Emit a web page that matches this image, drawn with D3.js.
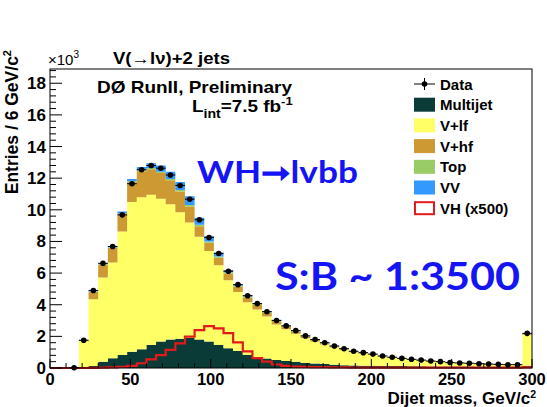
<!DOCTYPE html>
<html><head><meta charset="utf-8">
<script src="https://cdn.jsdelivr.net/npm/d3@7"></script>
<style>body{margin:0;background:#fff}svg{display:block}</style>
</head><body>
<svg id="c" width="547" height="407"></svg>
<script>
// bin lower edges, 6 GeV bins from 0 to 300
const binEdges = d3.range(0, 300, 6);
const binWidth = 6;
const dataCounts = [null,null,0.02, 1.75,4.90,6.62,7.68,9.68,11.65,12.53,12.80,12.63,12.20, 11.54,10.67,9.37,8.25,7.24,6.12,5.27,4.57,4.07,3.56, 3.00,2.66,2.36,2.03,1.80,1.60,1.39,1.22,1.06,0.97, 0.88,0.76,0.68,0.61,0.55,0.50,0.44,0.40,0.34,0.32, 0.30,0.27,0.25,0.23,0.21,0.21,2.19];
const multijet = [0,0,0, .03,.13,.40,.61,.82,1.03,1.18,1.46,1.67,1.80, 1.85,1.90,1.80,1.67,1.46,1.25,1.08,.82,.70,.60, .50,.45,.40,.32,.28,.25,.20,.18,.16,.15, .14,.13,.12,.12,.11,.11,.10,.10,.09,.09, .09,.08,.08,.08,.08,.08,.15];
const vlf = [0,0,0, 1.69,4.22,5.32,6.06,7.81,9.47,9.62,9.49,9.03,8.55, 8.00,7.30,6.50,5.73,5.04,4.30,3.72,3.33,3.00,2.65, 2.25,2.00,1.77,1.56,1.39,1.23,1.10,.97,.84,.76, .69,.60,.53,.47,.42,.37,.33,.29,.24,.22, .20,.18,.16,.14,.12,.12,1.95];
const vhf = [0,0,0, .05,.45,.81,.91,1.10,1.24,1.63,1.62,1.62,1.51, 1.31,1.01,.66,.51,.47,.43,.33,.31,.28,.25, .21,.18,.14,.13,.10,.08,.07,.05,.05,.04, .03,.02,.02,.02,.02,.01,.01,.01,.01,.01, .01,.01,.01,.01,.01,.01,.07];
const top_ = [0,0,0, 0,.02,.03,.04,.05,.06,.07,.08,.08,.09, .09,.09,.09,.08,.08,.07,.07,.06,.06,.05, .05,.04,.04,.03,.03,.02,.02,.02,.01,.01, .01,.01,.01,.01,.01,.01,.01,.01,.01,.01, .01,.01,.01,.01,.01,.01,.02];
const vv = [0,0,0, .01,.03,.06,.08,.12,.15,.20,.30,.40,.45, .50,.55,.45,.36,.25,.15,.10,.08,.06,.05, .04,.03,.03,.02,.02,.02,.01,.01,.01,.01, .01,.01,.01,0,0,0,0,0,0,0, 0,0,0,0,0,0,.01];
const vhx500 = [0,0,0, 0,.01,.02,.04,.08,.13,.30,.55,.82,1.14, 1.56,1.98,2.40,2.65,2.50,2.20,1.62,1.05,.62,.40, .22,.13,.09,.07,.05,.05,.04,.04,.03,.03, .03,.03,.03,.03,.02,.02,.02,.02,.02,.02, .02,.02,.02,.02,.02,.02,.04];
const yTicks = [0,2,4,6,8,10,12,14,16,18];
const xTicks = [0,50,100,150,200,250,300];
const seriesNames = ["Multijet","V+lf","V+hf","Top","VV"];
const seriesColors = ["#0b3b36","#ffff66","#cc9933","#99cc66","#3399ff"];

const svg = d3.select("#c");
const L=50, R=532, T=69, B=368;
const x = d3.scaleLinear().domain([0,300]).range([L,R]);
const y = d3.scaleLinear().domain([0,18.9]).range([B,T]);

const rows = binEdges.map((e,i)=>({e, "Multijet":multijet[i], "V+lf":vlf[i], "V+hf":vhf[i], "Top":top_[i], "VV":vv[i]}));
rows.push(Object.assign({}, rows[rows.length-1], {e:300}));
const stacked = d3.stack().keys(seriesNames)(rows);
const area = d3.area().curve(d3.curveStepAfter).x(d=>x(d.data.e)).y0(d=>y(d[0])).y1(d=>y(d[1]));
svg.append("g").selectAll("path").data(stacked).join("path")
  .attr("d", area).attr("fill",(d,i)=>seriesColors[i]);

// VH x500 outline
const vhPts = binEdges.map((e,i)=>[e,vhx500[i]]);
vhPts.push([300, vhx500[vhx500.length-1]]);
svg.append("path").attr("d", d3.line().curve(d3.curveStepAfter).x(d=>x(d[0])).y(d=>y(d[1]))(vhPts))
  .attr("fill","none").attr("stroke","#e31a1c").attr("stroke-width",2.2);

// data points
const dg = svg.append("g");
binEdges.forEach((e,i)=>{
  const v = dataCounts[i]; if (v===null) return;
  dg.append("line").attr("x1",x(e)).attr("x2",x(e+binWidth)).attr("y1",y(v)).attr("y2",y(v)).attr("stroke","#000").attr("stroke-width",1);
  const err = Math.sqrt(v*1000)/1000;
  dg.append("line").attr("x1",x(e+3)).attr("x2",x(e+3)).attr("y1",y(v+err)).attr("y2",y(Math.max(0,v-err))).attr("stroke","#000");
  dg.append("circle").attr("cx",x(e+3)).attr("cy",y(v)).attr("r",2.8).attr("fill","#000");
});

// frame
svg.append("rect").attr("x",L).attr("y",T).attr("width",R-L).attr("height",B-T).attr("fill","none").attr("stroke","#000").attr("stroke-width",1);

// ticks (inward)
const ax = svg.append("g").attr("stroke","#000");
d3.range(0,18.9,0.4).forEach(v=>{
  const major = Math.abs(v/2-Math.round(v/2))<1e-6;
  ax.append("line").attr("x1",L).attr("x2",L+(major?12:6)).attr("y1",y(v)).attr("y2",y(v));
});
d3.range(0,301,10).forEach(v=>{
  const major = v%50===0;
  ax.append("line").attr("x1",x(v)).attr("x2",x(v)).attr("y1",B).attr("y2",B-(major?9:5));
});
const font = "'Liberation Sans', Arial, sans-serif";
svg.append("g").selectAll("text").data(yTicks).join("text")
  .attr("x",46).attr("y",d=>y(d)+6).attr("text-anchor","end")
  .attr("font-family",font).attr("font-weight","bold").attr("font-size",17).text(d=>d);
svg.append("g").selectAll("text").data(xTicks).join("text")
  .attr("x",d=>x(d)).attr("y",385).attr("text-anchor","middle")
  .attr("font-family",font).attr("font-weight","bold").attr("font-size",16.5).text(d=>d);

// axis titles
const xl = svg.append("text").attr("x",536).attr("y",404).attr("text-anchor","end")
  .attr("font-family",font).attr("font-weight","bold").attr("font-size",17);
xl.append("tspan").text("Dijet mass, GeV/c");
xl.append("tspan").attr("dy",-6).attr("font-size",10.5).text("2");
const yl = svg.append("text").attr("transform","translate(18,50) rotate(-90)").attr("text-anchor","end")
  .attr("font-family",font).attr("font-weight","bold").attr("font-size",17.5);
yl.append("tspan").text("Entries / 6 GeV/c");
yl.append("tspan").attr("dy",-7).attr("font-size",11).text("2");

// x10^3
const ex = svg.append("text").attr("x",48).attr("y",65).attr("font-family",font).attr("font-size",15);
ex.append("tspan").text("\u00d710");
ex.append("tspan").attr("dy",-7).attr("font-size",10).text("3");
svg.append("text").attr("x",113).attr("y",64).attr("font-family",font).attr("font-weight","bold").attr("font-size",16)
  .attr("textLength",117).attr("lengthAdjust","spacingAndGlyphs").text("V(\u2192l\u03bd)+2 jets");
svg.append("text").attr("x",97).attr("y",93).attr("font-family",font).attr("font-weight","bold").attr("font-size",17)
  .attr("textLength",195).attr("lengthAdjust","spacingAndGlyphs").text("D\u00d8 RunII, Preliminary");
const li = svg.append("g").attr("transform","translate(192,112) scale(1.18,1)");
const lit = li.append("text").attr("x",0).attr("y",0).attr("font-family",font).attr("font-weight","bold").attr("font-size",16);
lit.append("tspan").text("L");
lit.append("tspan").attr("dy",6).attr("font-size",12).text("int");
lit.append("tspan").attr("dy",-6).text("=7.5 fb");
lit.append("tspan").attr("dy",-7).attr("font-size",11).text("-1");

// legend
const lg = svg.append("g");
const ly0 = 84, lstep = 20.7;
lg.append("line").attr("x1",414).attr("x2",435).attr("y1",ly0).attr("y2",ly0).attr("stroke","#000");
lg.append("line").attr("x1",424.5).attr("x2",424.5).attr("y1",ly0-6).attr("y2",ly0+6).attr("stroke","#000");
lg.append("circle").attr("cx",424.5).attr("cy",ly0).attr("r",2.8);
const legItems = seriesNames.map((n,i)=>({n, c:seriesColors[i]})).concat([{n:"VH (x500)", c:null}]);
const legNames = ["Data"].concat(legItems.map(d=>d.n));
legItems.forEach((d,i)=>{
  const cy = ly0 + lstep*(i+1);
  if (d.c) lg.append("rect").attr("x",414).attr("y",cy-7).attr("width",21).attr("height",14).attr("fill",d.c);
  else lg.append("rect").attr("x",415).attr("y",cy-6).attr("width",19).attr("height",12).attr("fill","#fff").attr("stroke","#e31a1c").attr("stroke-width",2);
});
lg.selectAll("text").data(legNames).join("text").attr("x",440).attr("y",(d,i)=>ly0+lstep*i+5.5)
  .attr("font-family",font).attr("font-weight","bold").attr("font-size",15).text(d=>d);

// annotations
const blue = "#1414f5";
svg.append("text").attr("x",197).attr("y",183).attr("font-family","Lato, 'Open Sans', sans-serif").attr("font-weight","bold").attr("font-size",30).attr("fill",blue)
  .attr("textLength",161).attr("lengthAdjust","spacingAndGlyphs").text("WH\u279elvbb");
svg.append("text").attr("x",275).attr("y",290).attr("font-family","Lato, 'Open Sans', sans-serif").attr("font-weight","bold").attr("font-size",38).attr("fill",blue)
  .attr("textLength",245).attr("lengthAdjust","spacingAndGlyphs").text("S:B ~ 1:3500");
</script>
</body></html>
